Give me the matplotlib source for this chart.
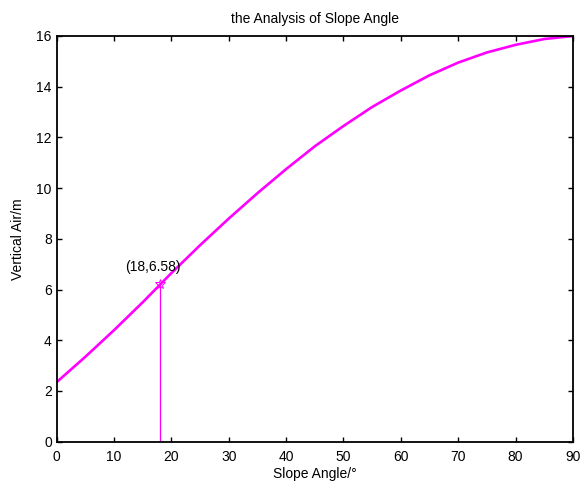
import matplotlib
matplotlib.use('Agg')
import matplotlib.pyplot as plt

# values
slope_angle = [0, 5, 10, 15, 20, 25, 30, 35, 40, 45, 50, 55, 60, 65, 70, 75, 80, 85, 90]
vertical_air = [2.35, 3.35, 4.4, 5.5, 6.65, 7.75, 8.8, 9.8, 10.75, 11.65, 12.45,
                13.2, 13.85, 14.45, 14.95, 15.35, 15.65, 15.88, 16.0]

mark_x = 18
mark_y = 6.2
mark_label = '(18,6.58)'

xticks = list(range(0, 91, 10))
yticks = list(range(0, 17, 2))

plt.rcParams['font.family'] = ['Liberation Sans', 'DejaVu Sans']
plt.rcParams['font.size'] = 10

fig = plt.figure(figsize=(5.81, 4.83), dpi=100)
ax = fig.add_axes([0.0976, 0.0855, 0.8884, 0.84])

ax.plot(slope_angle, vertical_air, color='#ff00ff', linewidth=1.9)
ax.plot([mark_x, mark_x], [0, mark_y], color='#ff00ff', linewidth=0.9)
ax.plot(mark_x, mark_y, marker='*', color='#ff00ff', markersize=7,
        markerfacecolor='none', markeredgewidth=0.7)
ax.text(12, 6.9, mark_label, ha='left', va='center', fontsize=10)

ax.set_xlim(0, 90)
ax.set_ylim(0, 16)
ax.set_xticks(xticks)
ax.set_yticks(yticks)
ax.tick_params(axis='x', pad=6)
ax.tick_params(direction='in', length=3.5, width=1, top=True, right=True)
for s in ax.spines.values():
    s.set_linewidth(1.3)

ax.set_title('the Analysis of Slope Angle', fontsize=10, pad=9)
ax.set_xlabel('Slope Angle/°', labelpad=2)
ax.set_ylabel('Vertical Air/m', labelpad=8)

fig.savefig('out.png', dpi=100)
